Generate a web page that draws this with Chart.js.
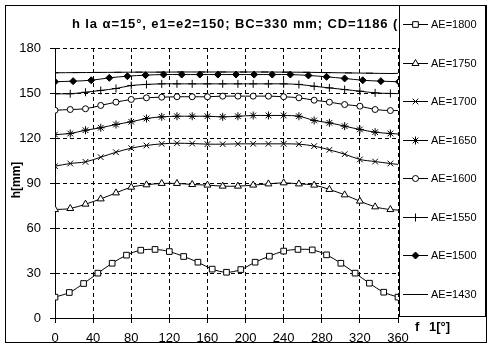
<!DOCTYPE html>
<html><head><meta charset="utf-8">
<script src="https://cdn.jsdelivr.net/npm/chart.js@4.4.1/dist/chart.umd.min.js"></script>
<style>html,body{margin:0;padding:0;background:#fff;}#wrap{width:492px;height:357px;position:relative;}</style>
</head><body><div id="wrap"><canvas id="c" width="492" height="357"></canvas></div>
<script>
// ---- texts ----
const titleText = 'h la \u03b1=15\u00b0, e1=e2=150; BC=330 mm; CD=1186 (';
const yAxisTitle = 'h[mm]';
const xAxisTitleA = 'f';
const xAxisTitleB = '1[\u00b0]';
const seriesNames = ['AE=1800','AE=1750','AE=1700','AE=1650','AE=1600','AE=1550','AE=1500','AE=1430'];
const xTickValues = [0,40,80,120,160,200,240,280,320,360];
const yTickValues = [0,30,60,90,120,150,180];

// ---- angles (phi1, degrees) ----
const phiAE1800 = [0,15,30,45,60,75,90,105,120,135,150,165,180,195,210,225,240,255,270,285,300,315,330,345,360];
const phi16 = [0,16,32,48,64,80,96,112,128,144,160,176,192,208,224,240,256,272,288,304,320,336,352,368];
const phiAE1500 = [0,19,38,57,76,95,114,133,152,171,190,209,228,247,266,285,304,323,342,361];
const phiAE1430 = [0,22,44,66,88,110,132,154,176,198,220,242,264,286,308,330,352,374];

// ---- h values (mm) ----
const hAE1800 = [13.9,17,23,29.9,36.5,41.9,45.2,45.7,44.3,41,37.2,32.6,30.5,32.3,37.2,41.2,44.6,45.7,45.4,42.1,36.5,29.9,23.2,17.2,13.9];
const hAE1750 = [72.3,73,75.9,79.4,83.4,87.2,88.8,89.7,89.7,89,88.6,87.9,87.9,88.6,89.4,90.1,89.4,88.6,85.7,82.1,77.9,74.1,72.3,71.8];
const hAE1700 = [101.2,103,104.1,107.2,110.5,113.2,115,116.1,116.5,116.3,115.9,115.9,116.1,116.1,116.1,116.1,115.9,114.6,112.1,109.2,105.7,104.3,103,101.8];
const hAE1650 = [122.3,123,125.2,126.8,129,130.8,133,134.1,134.5,134.5,134.5,134.1,134.5,135,135,135,134.5,131.7,130.1,127.9,125.7,123.9,123,122.4];
const hAE1600 = [138.5,139,139.5,141.7,143.9,145.7,146.8,147.2,147.5,147.5,147.5,147.9,147.9,147.9,147.9,147.5,146.8,145.2,143.9,142.3,141.2,139,138.3,138.5];
const hAE1550 = [149.5,149.5,150.5,151.7,153,155,155.7,156.1,156.1,156.1,156.1,156.1,156.1,156.1,156.1,156.1,155.7,154.5,153.4,152.3,151.2,150.1,149.7,149.5];
const hAE1500 = [157.5,157.9,158.5,160.1,161.2,161.9,162.3,162.3,162.3,162.3,162.3,162.3,162.3,162.3,161.7,160.8,159.7,158.5,157.9,157.5];
const hAE1430 = [163.5,163.6,163.7,163.8,163.9,163.9,164,164,164,164,164,163.9,163.8,163.6,163.4,163.2,163,163.3];

const seriesPhi = [phiAE1800, phi16, phi16, phi16, phi16, phi16, phiAE1500, phiAE1430];
const seriesH = [hAE1800, hAE1750, hAE1700, hAE1650, hAE1600, hAE1550, hAE1500, hAE1430];
const markerStyles = [
  {pointStyle:'rect', radius:4, fill:'#fff'},
  {pointStyle:'triangle', radius:4, fill:'#fff'},
  {pointStyle:'crossRot', radius:4, fill:'#fff'},
  {pointStyle:'star', radius:4, fill:'#fff'},
  {pointStyle:'circle', radius:3, fill:'#fff'},
  {pointStyle:'cross', radius:4, fill:'#fff'},
  {pointStyle:'rectRot', radius:3.5, fill:'#000'},
  {pointStyle:'line', radius:3.5, fill:'#000'}
];

const FONT = '"Liberation Sans", Arial, sans-serif';

const datasets = seriesNames.map((name, i) => ({
  label: name,
  data: seriesPhi[i].map((p, k) => ({x: p, y: seriesH[i][k]})),
  showLine: true,
  borderColor: '#000',
  borderWidth: 1,
  tension: 0.35,
  pointStyle: markerStyles[i].pointStyle,
  pointRadius: markerStyles[i].radius,
  pointBorderColor: '#000',
  pointBorderWidth: 1,
  pointBackgroundColor: markerStyles[i].fill,
  clip: 0
}));

const decor = {
  id: 'decor',
  afterDraw(chart) {
    const ctx = chart.ctx;
    ctx.save();
    // title
    ctx.fillStyle = '#000';
    ctx.font = 'bold 13px ' + FONT;
    ctx.textAlign = 'left';
    ctx.textBaseline = 'middle';
    try { ctx.letterSpacing = '0.9px'; } catch (e) {}
    ctx.fillText(titleText, 72, 24);
    try { ctx.letterSpacing = '0px'; } catch (e) {}
    // legend box
    ctx.fillStyle = '#fff';
    ctx.fillRect(399, 5, 87, 311);
    ctx.strokeStyle = '#000';
    ctx.lineWidth = 1;
    ctx.setLineDash([]);
    ctx.strokeRect(399.5, 5.5, 86, 311);
    ctx.font = '11px ' + FONT;
    ctx.textBaseline = 'middle';
    seriesNames.forEach((name, i) => {
      const y = Math.round(24 + 38.5 * i) + 0.5;
      ctx.strokeStyle = '#000';
      ctx.beginPath(); ctx.moveTo(403, y); ctx.lineTo(428, y); ctx.stroke();
      ctx.fillStyle = markerStyles[i].fill;
      ctx.strokeStyle = '#000';
      Chart.helpers.drawPoint(ctx, {pointStyle: markerStyles[i].pointStyle, radius: markerStyles[i].radius, borderWidth: 1, rotation: 0}, 415.5, y);
      ctx.fillStyle = '#000';
      ctx.fillText(name, 431, y);
    });
    // axis titles
    ctx.fillStyle = '#000';
    ctx.font = 'bold 13px ' + FONT;
    ctx.textAlign = 'left';
    ctx.fillText(xAxisTitleA, 415, 327);
    ctx.fillText(xAxisTitleB, 429, 327);
    ctx.save();
    ctx.translate(17, 180);
    ctx.rotate(-Math.PI / 2);
    ctx.textAlign = 'center';
    ctx.font = 'bold 12px ' + FONT;
    ctx.fillText(yAxisTitle, 0, 0);
    ctx.restore();
    // outer border
    ctx.strokeStyle = '#000';
    ctx.strokeRect(5.5, 5.5, 481, 337);
    ctx.restore();
  }
};

new Chart(document.getElementById('c'), {
  type: 'scatter',
  data: {datasets},
  options: {
    responsive: false,
    animation: false,
    events: [],
    layout: {padding: {left: 0, top: 48, right: 94, bottom: 0}},
    plugins: {legend: {display: false}, title: {display: false}, tooltip: {enabled: false}},
    scales: {
      x: {
        type: 'linear', min: 0, max: 360,
        afterBuildTicks: (s) => { s.ticks = xTickValues.map(v => ({value: v})); },
        afterFit: (s) => { s.height = 39; },
        ticks: {color: '#000', font: {family: FONT, size: 13}, padding: 8, maxRotation: 0, autoSkip: false},
        grid: {color: '#000', lineWidth: 1, tickLength: 5, tickColor: '#000', tickBorderDash: [], drawTicks: true},
        border: {display: true, color: '#000', width: 1, dash: [4, 3]}
      },
      y: {
        type: 'linear', min: 0, max: 180,
        afterBuildTicks: (s) => { s.ticks = yTickValues.map(v => ({value: v})); },
        afterFit: (s) => { s.width = 55; },
        ticks: {color: '#000', font: {family: FONT, size: 13}, padding: 9, autoSkip: false},
        grid: {color: '#000', lineWidth: 1, tickLength: 5, tickColor: '#000', tickBorderDash: [], drawTicks: true},
        border: {display: true, color: '#000', width: 1, dash: [4, 3]}
      }
    }
  },
  plugins: [decor]
});
</script>
</body></html>
